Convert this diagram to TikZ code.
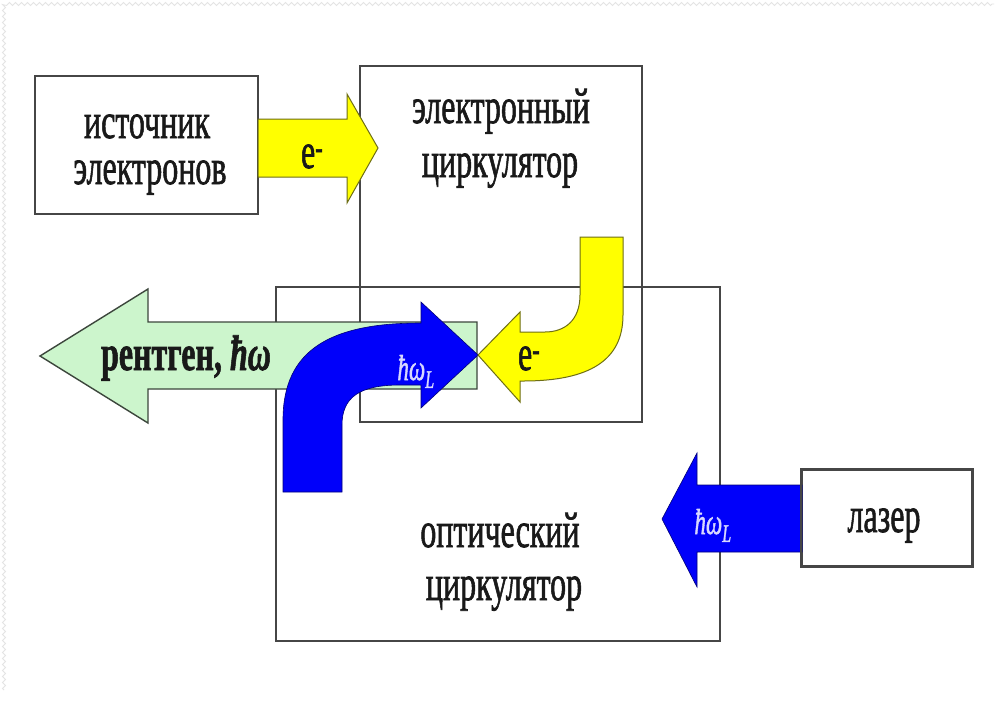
\documentclass[tikz,border=0pt]{standalone}
\usepackage{fontspec}
\setmainfont{Liberation Serif}[FakeBold=1.6]
\usetikzlibrary{decorations.pathmorphing}

\definecolor{frameline}{RGB}{70,70,70}
\definecolor{eyellow}{RGB}{255,255,0}
\definecolor{eyellowline}{RGB}{110,110,20}
\definecolor{xgreen}{RGB}{204,245,204}
\definecolor{xgreenline}{RGB}{60,70,60}
\definecolor{lblue}{RGB}{0,0,250}
\definecolor{lblueline}{RGB}{0,0,120}
\definecolor{lbluetext}{RGB}{215,215,255}
\definecolor{edgezig}{RGB}{228,228,228}
\definecolor{inkgray}{RGB}{25,25,25}

% narrow serif lettering
\newcommand{\narrow}[1]{\scalebox{0.64}[1]{#1}}

\tikzset{
  box/.style={draw=frameline, line width=1.6pt, fill=none, inner sep=0pt},
  label/.style={inner sep=0pt, anchor=base, text=inkgray, font=\fontsize{50}{50}\selectfont},
  boldlabel/.style={label, font=\fontsize{50}{50}\selectfont\bfseries},
  smalllabel/.style={inner sep=0pt, anchor=base, font=\fontsize{36}{36}\selectfont},
  earrow/.style={fill=eyellow, draw=eyellowline, line width=1pt, line join=miter},
  xarrow/.style={fill=xgreen, draw=xgreenline, line width=1.4pt, line join=miter},
  parrow/.style={fill=lblue, draw=lblueline, line width=0.6pt, line join=miter},
}

\begin{document}
\begin{tikzpicture}[x=1pt, y=-1pt]
  \useasboundingbox (0,0) rectangle (998,702);
  \fill[white] (0,0) rectangle (998,702);

  % faint wavy border of the slide
  \draw[edgezig, line width=0.8pt, decorate,
        decoration={zigzag, amplitude=1.5pt, segment length=6pt}]
        (4,690) -- (4,4) -- (994,4);

  % blocks
  \node[box, minimum width=223pt, minimum height=138pt] (src)   at (146.5,145) {};
  \node[box, minimum width=282pt, minimum height=356pt] (ecirc) at (501,244) {};
  \node[box, minimum width=444pt, minimum height=354pt] (ocirc) at (498,464) {};
  \node[box, minimum width=170pt, minimum height=96pt]  (laser) at (887,518) {};

  % electrons from the source into the electron circulator
  \draw[earrow] (258,119) -- (347,119) -- (347,94) -- (378,148)
                -- (347,203) -- (347,177) -- (258,177) -- cycle;

  % outgoing x-ray beam
  \draw[xarrow] (477,322) -- (148,322) -- (148,289) -- (40,356)
                -- (148,423) -- (148,389) -- (477,389) -- cycle;

  % laser photons turned by the optical circulator
  \draw[parrow] (283,492) -- (283,420)
                .. controls (283,350) and (330,323) .. (421,323)
                -- (421,302) -- (478,355) -- (421,408) -- (421,385)
                -- (400,385) .. controls (360,385) and (342,397) .. (342,425)
                -- (342,492) -- cycle;

  % electrons turned by the electron circulator
  \draw[earrow] (580,237) -- (623,237) -- (623,315)
                .. controls (623,360) and (590,381) .. (523,381)
                -- (520,381) -- (520,402) -- (478,355) -- (520,312)
                -- (520,332) -- (545,332)
                .. controls (565,332) and (580,320) .. (580,295) -- cycle;

  % laser beam entering the optical circulator
  \draw[parrow] (802,485) -- (697,485) -- (697,453) -- (662,519)
                -- (697,587) -- (697,552) -- (802,552) -- cycle;
  \draw[frameline, line width=1.6pt] (laser.north west) rectangle (laser.south east);

  % texts
  \node[label] (srcA) at (147,138) {\narrow{источник}};
  \node[label] (srcB) at (150,184) {\narrow{электронов}};
  \node[label] (ecA)  at (501,123) {\narrow{электронный}};
  \node[label] (ecB)  at (500,177) {\narrow{циркулятор}};
  \node[label] (ocA)  at (500,547) {\narrow{оптический}};
  \node[label] (ocB)  at (504,600) {\narrow{циркулятор}};
  \node[label] (lasT) at (884,532) {\narrow{лазер}};

  \node[label] (e1) at (312,168) {\narrow{e\textsuperscript{-}}};
  \node[label] (e2) at (529,370) {\narrow{e\textsuperscript{-}}};
  \node[boldlabel] (xray) at (186,370) {\narrow{рентген, {\itshape ħω}}};

  \node[smalllabel, text=lbluetext] (w1) at (416,380) {\narrow{{\itshape ħω}\textsubscript{\itshape L}}};
  \node[smalllabel, text=lbluetext] (w2) at (713,534) {\narrow{{\itshape ħω}\textsubscript{\itshape L}}};
\end{tikzpicture}
\end{document}
